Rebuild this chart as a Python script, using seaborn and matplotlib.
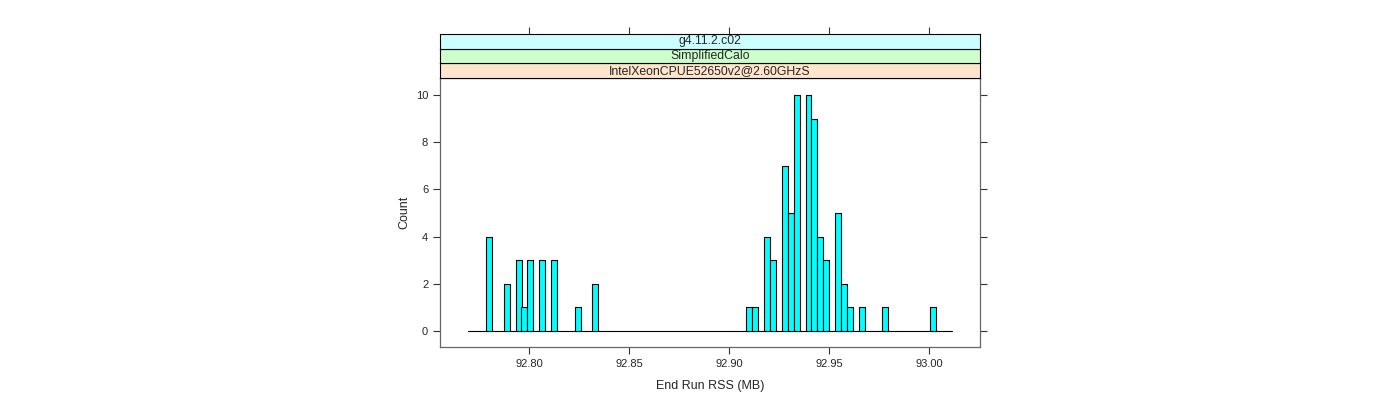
import numpy as np
import matplotlib
matplotlib.use("Agg")
import matplotlib.pyplot as plt
import seaborn as sns

values = [92.7798, 92.7887, 92.7947, 92.7974, 92.8004, 92.8063, 92.8122, 92.8242, 92.8330,
          92.9099, 92.9128, 92.9188, 92.9218, 92.9277, 92.9307, 92.9337, 92.9396, 92.9424,
          92.9453, 92.9483, 92.9543, 92.9572, 92.9602, 92.9662, 92.9780, 93.0017]
counts = [4, 2, 3, 1, 3, 3, 3, 1, 2,
          1, 1, 4, 3, 7, 5, 10, 10, 9,
          4, 3, 5, 2, 1, 1, 1, 1]
strip_labels = ["g4.11.2.c02", "SimplifiedCalo", "IntelXeonCPUE52650v2@2.60GHzS"]
strip_colors = ["#CCFFFF", "#CCFFCC", "#FFE5CC"]
x_ticks = [92.80, 92.85, 92.90, 92.95, 93.00]
y_ticks = [0, 2, 4, 6, 8, 10]

sns.set_style("white")
plt.rcParams["font.family"] = ["Liberation Sans", "DejaVu Sans"]

fig = plt.figure(figsize=(14, 4), dpi=100)
W, H = 1400, 400
L, R = 440, 980
pb, pt = 347, 78
ax = fig.add_axes([L / W, 1 - pb / H, (R - L) / W, (pb - pt) / H])

vals = np.array(values)
mind = np.min(np.diff(np.unique(vals)))
bar_w = 0.0029
sns.barplot(x=vals, y=counts, native_scale=True, width=bar_w / mind,
            color="#00FFFF", saturation=1, edgecolor="black", linewidth=0.8, ax=ax)

ax.plot([92.7694, 93.0114], [0, 0], color="black", lw=0.8, zorder=0)

xlim = (92.7554, 93.0254)
ax.set_xlim(*xlim)
ax.set_ylim(-0.68, 10.72)
ax.set_xticks(x_ticks)
ax.set_xticklabels([f"{t:.2f}" for t in x_ticks], fontsize=8)
ax.set_yticks(y_ticks)
ax.set_yticklabels([str(t) for t in y_ticks], fontsize=8)
ax.tick_params(axis="both", direction="out", length=5, width=0.8, color="#333333",
               bottom=True, left=True, right=True, top=False, labelright=False)
ax.set_xlabel("End Run RSS (MB)", fontsize=9, labelpad=8)
ax.set_ylabel("Count", fontsize=9, labelpad=4)
for s in ax.spines.values():
    s.set_color("#666666")
    s.set_linewidth(0.9)

# strips
sb = pt
sh = 14.7
for i, (lab, col) in enumerate(zip(reversed(strip_labels), reversed(strip_colors))):
    bot = sb - i * sh
    sax = fig.add_axes([L / W, 1 - bot / H, (R - L) / W, sh / H])
    sax.set_facecolor(col)
    sax.set_xlim(*xlim)
    sax.set_ylim(0, 1)
    sax.set_yticks([])
    sax.text(0.5, 0.5, lab, ha="center", va="center", fontsize=8.8, transform=sax.transAxes)
    for s in sax.spines.values():
        s.set_color("black")
        s.set_linewidth(0.8)
    if i == len(strip_labels) - 1:
        sax.set_xticks(x_ticks)
        sax.tick_params(axis="x", direction="out", length=5, width=0.8, color="#333333",
                        top=True, bottom=False, labeltop=False, labelbottom=False)
    else:
        sax.set_xticks([])

fig.savefig("out.png", dpi=100)
